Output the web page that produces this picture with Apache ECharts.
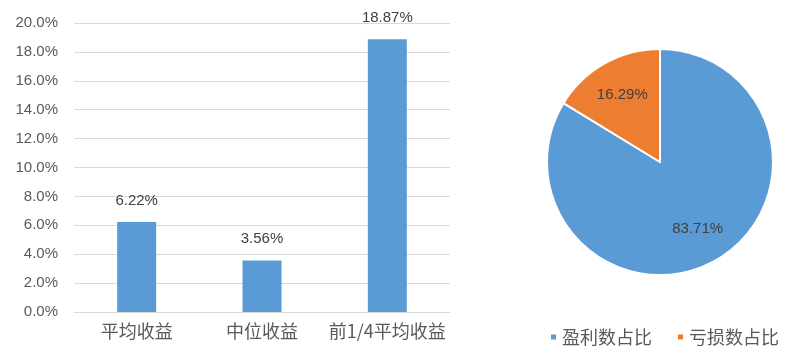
<!DOCTYPE html>
<html><head><meta charset="utf-8">
<script src="https://cdn.jsdelivr.net/npm/echarts@6/dist/echarts.min.js"></script>
<style>html,body{margin:0;padding:0;background:#fff}#c{width:785px;height:355px}</style>
</head><body><div id="c"></div>
<script>
const barCategories = ['平均收益', '中位收益', '前1/4平均收益'];
const barValues = [6.22, 3.56, 18.87];
const yTicks = {min: 0, max: 20, interval: 2};
const pieNames = ['盈利数占比', '亏损数占比'];
const pieValues = [83.71, 16.29];
const colors = ['#5B9BD5', '#ED7D31'];
const numFont = '"Liberation Sans", Arial, sans-serif';
const cjkFont = '"Noto Sans CJK SC", sans-serif';

const chart = echarts.init(document.getElementById('c'));
chart.setOption({
  animation: false,
  color: colors,
  grid: {left: 74, right: 335, top: 23, bottom: 43},
  xAxis: {
    type: 'category', data: barCategories,
    axisLine: {lineStyle: {color: '#D9D9D9', width: 1}},
    axisTick: {show: false},
    axisLabel: {interval: 0, color: '#595959', fontSize: 18, fontFamily: cjkFont, margin: 10}
  },
  yAxis: {
    type: 'value', min: yTicks.min, max: yTicks.max, interval: yTicks.interval,
    axisLine: {show: false}, axisTick: {show: false},
    splitLine: {lineStyle: {color: '#D9D9D9', width: 1}},
    axisLabel: {color: '#595959', fontSize: 15, fontFamily: numFont, margin: 16,
      formatter: v => v.toFixed(1) + '%'}
  },
  legend: {
    data: pieNames, left: 544, top: 323, itemWidth: 7, itemHeight: 7, itemGap: 24,
    icon: 'rect',
    textStyle: {color: '#595959', fontSize: 18, fontFamily: cjkFont}
  },
  series: [
    {
      type: 'bar', data: barValues, barWidth: 39, itemStyle: {color: colors[0]},
      label: {show: true, position: 'top', distance: 14, color: '#404040', fontSize: 15,
        fontFamily: numFont, formatter: p => p.value.toFixed(2) + '%'}
    },
    {
      type: 'pie', center: [660, 162], radius: 113, startAngle: 90, clockwise: true,
      data: pieNames.map((n, i) => ({name: n, value: pieValues[i], itemStyle: {color: colors[i]}})),
      itemStyle: {borderColor: '#fff', borderWidth: 2},
      label: {show: false}, labelLine: {show: false}, emphasis: {disabled: true}
    },
    {
      type: 'pie', center: [660, 162], radius: [38, 110], startAngle: 90, clockwise: true,
      silent: true, legendHoverLink: false,
      data: pieNames.map((n, i) => ({name: n, value: pieValues[i]})),
      itemStyle: {color: 'rgba(0,0,0,0)'},
      label: {show: true, position: 'inside', color: '#404040', fontSize: 15, fontFamily: numFont,
        formatter: p => p.value.toFixed(2) + '%'},
      labelLine: {show: false}, emphasis: {disabled: true}
    }
  ]
});
</script></body></html>
